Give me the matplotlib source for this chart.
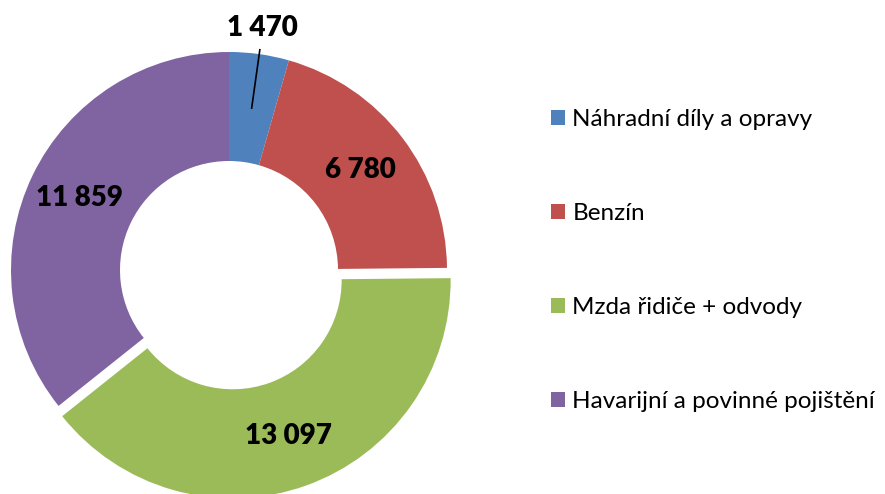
import numpy as np
import matplotlib.pyplot as plt

categories = ["Náhradní díly a opravy", "Benzín", "Mzda řidiče + odvody",
              "Havarijní a povinné pojištění"]
values = [1470, 6780, 13097, 11859]
colors = ["#4F81BD", "#C0504D", "#9BBB59", "#8064A2"]
explode = [0, 0, 0.05, 0]

plt.rcParams['font.family'] = ['Lato', 'DejaVu Sans']

fig = plt.figure(figsize=(8.85, 4.94), dpi=100)
ax = fig.add_axes([0, 0, 1, 1])

wedges, _ = ax.pie(values, colors=colors, explode=explode, startangle=90,
                   counterclock=False, radius=1,
                   wedgeprops=dict(width=0.5, linewidth=0))

# value labels in the middle of the ring, the small one outside with a line
for w, v in zip(wedges, values):
    mid = np.deg2rad((w.theta1 + w.theta2) / 2)
    cx, cy = w.center
    txt = f"{v:,}".replace(",", " ")
    if v / sum(values) < 0.06:
        ax.plot([cx + 0.75 * np.cos(mid), cx + 1.02 * np.cos(mid)],
                [cy + 0.75 * np.sin(mid), cy + 1.02 * np.sin(mid)],
                color="black", lw=1.2)
        ax.text(cx + 1.12 * np.cos(mid), cy + 1.12 * np.sin(mid), txt,
                ha="center", va="center", fontsize=20, fontweight="heavy")
    else:
        ax.text(cx + 0.76 * np.cos(mid), cy + 0.76 * np.sin(mid), txt,
                ha="center", va="center", fontsize=20, fontweight="heavy")

ax.set_xlim(-229 / 218, 656 / 218)
ax.set_ylim(-224 / 218, 270 / 218)
ax.axis("off")

ax.legend(wedges, categories, loc="upper left",
          bbox_to_anchor=(551 / 885, 1 - 109 / 494),
          bbox_transform=fig.transFigure, frameon=False, fontsize=17.5,
          handlelength=0.58, handleheight=0.58, handletextpad=0.3,
          labelspacing=3.0, borderpad=0, borderaxespad=0)

fig.savefig("out.png", dpi=100)
